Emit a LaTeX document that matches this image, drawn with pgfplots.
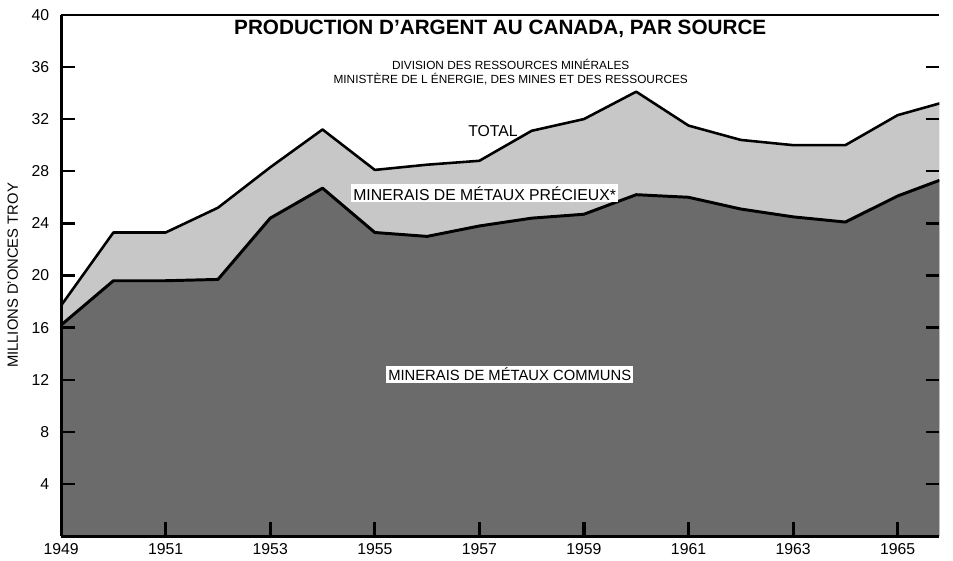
\documentclass[border=0pt]{standalone}
\usepackage{pgfplots}
\pgfplotsset{compat=1.18}
\usepackage{pgfplotstable}
\usepackage{fontspec}
\setmainfont{Liberation Sans}

% silver production, millions of troy ounces
\pgfplotstableread{
year  base  total
1949  16.2  17.7
1950  19.6  23.3
1951  19.6  23.3
1952  19.7  25.2
1953  24.4  28.3
1954  26.7  31.2
1955  23.3  28.1
1956  23.0  28.5
1957  23.8  28.8
1958  24.4  31.1
1959  24.7  32.0
1960  26.2  34.1
1961  26.0  31.5
1962  25.1  30.4
1963  24.5  30.0
1964  24.1  30.0
1965  26.1  32.3
1965.8 27.3 33.2
}\silver

\begin{document}
\begin{tikzpicture}
\begin{axis}[
    name=main,
    scale only axis,
    width=445.5pt, height=264.5pt,
    xmin=1949, xmax=1965.8,
    ymin=0, ymax=40,
    axis on top,
    axis x line*=bottom,
    axis y line*=left,
    axis line style={line width=1.6pt, -},
    xtick={1949,1951,...,1965},
    ytick={4,8,...,40},
    tick align=inside,
    major tick length=7pt,
    x tick style={line width=1.6pt, black},
    y tick style={line width=1.2pt, black},
    /pgf/number format/assume math mode=true,
    xticklabel style={/pgf/number format/1000 sep={}, font=\fontsize{8}{9}\selectfont},
    yticklabel style={font=\fontsize{8}{9}\selectfont, xshift=-2.5pt},
    ylabel={MILLIONS D'ONCES TROY},
    ylabel style={font=\fontsize{7.5}{9}\selectfont},
]
\addplot[fill=black!22, draw=none] table[x=year, y=total] {\silver} \closedcycle;
\addplot[fill=black!58, draw=none] table[x=year, y=base] {\silver} \closedcycle;
\addplot[black, line width=1.5pt, line join=round] table[x=year, y=base] {\silver};
\addplot[black, line width=1.3pt, line join=round] table[x=year, y=total] {\silver};
\node[font=\bfseries\fontsize{10.5}{12}\selectfont] at (axis cs:1957.4,38.9)
    {PRODUCTION D'ARGENT AU CANADA, PAR SOURCE};
\node[font=\fontsize{6}{7.5}\selectfont, align=center] at (axis cs:1957.6,35.6)
    {DIVISION DES RESSOURCES MINÉRALES\\MINISTÈRE DE L ÉNERGIE, DES MINES ET DES RESSOURCES};
\node[font=\fontsize{8}{9}\selectfont] at (axis cs:1957.26,31.1) {TOTAL};
\node[font=\fontsize{8}{9}\selectfont, fill=white, inner sep=1pt] at (axis cs:1957.1,26.3)
    {MINERAIS DE MÉTAUX PRÉCIEUX*};
\node[font=\fontsize{7.5}{9}\selectfont, fill=white, inner sep=1pt] at (axis cs:1957.58,12.4)
    {MINERAIS DE MÉTAUX COMMUNS};
\end{axis}
% right-hand tick marks only, no line on that side
\begin{axis}[
    scale only axis,
    width=445.5pt, height=264.5pt,
    xmin=1949, xmax=1965.8,
    ymin=0, ymax=40,
    axis x line*=top,
    axis y line*=right,
    axis line style={line width=1.2pt, -},
    y axis line style={draw=none},
    xtick=\empty,
    ytick={4,8,...,36},
    yticklabels={},
    tick align=inside,
    major tick length=7pt,
    y tick style={line width=1.2pt, black},
]
\end{axis}
% page size
\path ([shift={(-31pt,-12.5pt)}]main.south west)
    rectangle ([shift={(0pt,7.5pt)}]main.north east);
\end{tikzpicture}
\end{document}
